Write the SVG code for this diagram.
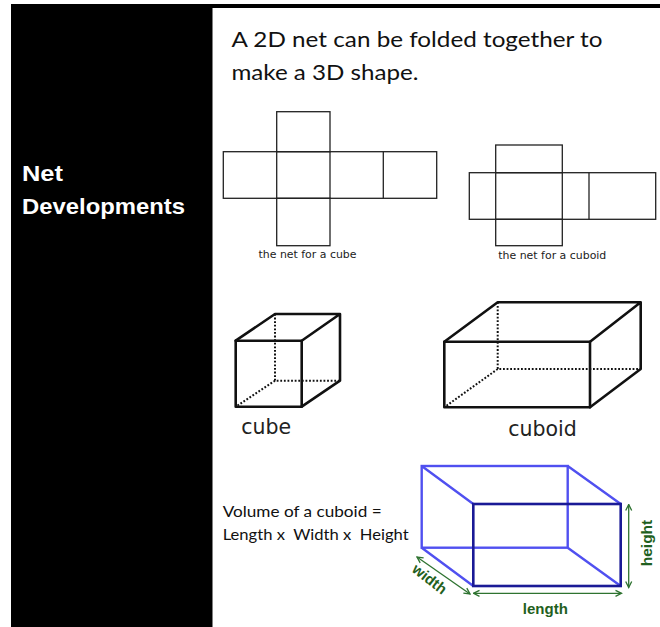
<svg xmlns="http://www.w3.org/2000/svg" width="660" height="627" viewBox="0 0 660 627">
<style>
.net{fill:none;stroke:#222;stroke-width:1.3}
.solid{fill:none;stroke:#111;stroke-width:2.6;stroke-linejoin:round;stroke-linecap:round}
.dot{fill:none;stroke:#111;stroke-width:2;stroke-dasharray:1.8 1.8}
.back{fill:none;stroke:#5050f0;stroke-width:2.4}
.front{fill:none;stroke:#1a1a96;stroke-width:2.6}
.arr{fill:none;stroke:#2e7330;stroke-width:1.3;marker-start:url(#ah);marker-end:url(#ah)}
.cal{font-family:Lato,"Open Sans","Liberation Sans",sans-serif;fill:#111}
.small{font-family:"DejaVu Sans",Verdana,sans-serif;font-size:11px;fill:#222}
.big{font-family:"DejaVu Sans",Verdana,sans-serif;font-size:20.5px;fill:#222}
.grn{font-family:"Liberation Sans",Arial,sans-serif;font-weight:bold;fill:#1f6020}
</style>
<defs>
<marker id="ah" viewBox="0 0 8 8" refX="7" refY="4" markerWidth="8" markerHeight="8" markerUnits="userSpaceOnUse" orient="auto-start-reverse">
<path d="M1,1 L7,4 L1,7" fill="none" stroke="#2e7330" stroke-width="1.3"/>
</marker>
</defs>
<rect width="660" height="627" fill="#fff"/>
<g id="frame">
<rect x="11" y="4" width="649" height="4" fill="#000"/>
<rect x="11" y="4" width="201.5" height="623" fill="#000"/>
</g>
<g id="title">
<text x="22" y="181" font-family="Liberation Sans,Arial,sans-serif" font-weight="bold" font-size="21.5" fill="#fff" textLength="41" lengthAdjust="spacingAndGlyphs">Net</text>
<text x="22" y="214" font-family="Liberation Sans,Arial,sans-serif" font-weight="bold" font-size="21.5" fill="#fff" textLength="163" lengthAdjust="spacingAndGlyphs">Developments</text>
</g>
<g id="intro">
<text class="cal" x="231.5" y="47" font-size="22" textLength="371" lengthAdjust="spacingAndGlyphs">A 2D net can be folded together to</text>
<text class="cal" x="231.5" y="80" font-size="22" textLength="187" lengthAdjust="spacingAndGlyphs">make a 3D shape.</text>
</g>
<g id="cube-net">
<rect class="net" x="276.7" y="111.7" width="53.3" height="40"/>
<rect class="net" x="223.3" y="151.7" width="213.4" height="46.6"/>
<line class="net" x1="276.7" y1="151.7" x2="276.7" y2="198.3"/>
<line class="net" x1="330" y1="151.7" x2="330" y2="198.3"/>
<line class="net" x1="383.3" y1="151.7" x2="383.3" y2="198.3"/>
<rect class="net" x="276.7" y="198.3" width="53.3" height="47.4"/>
<text class="small" x="307.5" y="258" text-anchor="middle" textLength="98" lengthAdjust="spacingAndGlyphs">the net for a cube</text>
</g>
<g id="cuboid-net">
<rect class="net" x="495.7" y="145" width="66.6" height="27.7"/>
<rect class="net" x="469.3" y="172.7" width="186.4" height="46.6"/>
<line class="net" x1="495.7" y1="172.7" x2="495.7" y2="219.3"/>
<line class="net" x1="562.3" y1="172.7" x2="562.3" y2="219.3"/>
<line class="net" x1="589" y1="172.7" x2="589" y2="219.3"/>
<rect class="net" x="495.7" y="219.3" width="66.6" height="26.4"/>
<text class="small" x="552.3" y="259" text-anchor="middle" textLength="108" lengthAdjust="spacingAndGlyphs">the net for a cuboid</text>
</g>
<g id="cube">
<path class="dot" d="M275,314 V380.7 H340 M275,380.7 L235.7,406.7"/>
<rect class="solid" x="235.7" y="340.7" width="66" height="66"/>
<path class="solid" d="M235.7,340.7 L275,314 H340 L301.7,340.7 M340,314 V380.7 L301.7,406.7"/>
<text class="big" x="266.3" y="434" text-anchor="middle">cube</text>
</g>
<g id="cuboid">
<path class="dot" d="M497.7,302.3 V369 H640.7 M497.7,369 L444.3,407.3"/>
<rect class="solid" x="444.3" y="341.7" width="145.7" height="65.6"/>
<path class="solid" d="M444.3,341.7 L497.7,302.3 H640.7 L590,341.7 M640.7,302.3 V369 L590,407.3"/>
<text class="big" x="542.5" y="435.7" text-anchor="middle">cuboid</text>
</g>
<g id="volume">
<text class="cal" x="222.7" y="516.7" font-size="16" textLength="159" lengthAdjust="spacingAndGlyphs">Volume of a cuboid =</text>
<text class="cal" x="222.7" y="540" font-size="16" style="white-space:pre" textLength="186" lengthAdjust="spacingAndGlyphs">Length x  Width x  Height</text>
</g>
<g id="blue-cuboid">
<rect class="back" x="421.7" y="466" width="146" height="81.7"/>
<path class="back" d="M421.7,466 L473.3,504 M567.7,466 L620.7,504 M421.7,547.7 L473.3,586 M567.7,547.7 L620.7,586"/>
<rect class="front" x="473.3" y="504" width="147.4" height="82"/>
</g>
<g id="connectors">
<line class="arr" x1="628.7" y1="504.5" x2="628.7" y2="587.5"/>
<line class="arr" x1="473.5" y1="593.3" x2="621.5" y2="593.3"/>
<line class="arr" x1="417" y1="557" x2="470" y2="594"/>
</g>
<g id="dim-labels">
<text class="grn" font-size="15.5" text-anchor="middle" transform="translate(652,543) rotate(-90)">height</text>
<text class="grn" font-size="15" x="545.3" y="613.5" text-anchor="middle">length</text>
<text class="grn" font-size="15" text-anchor="middle" transform="translate(426.5,583) rotate(38)">width</text>
</g>
</svg>
